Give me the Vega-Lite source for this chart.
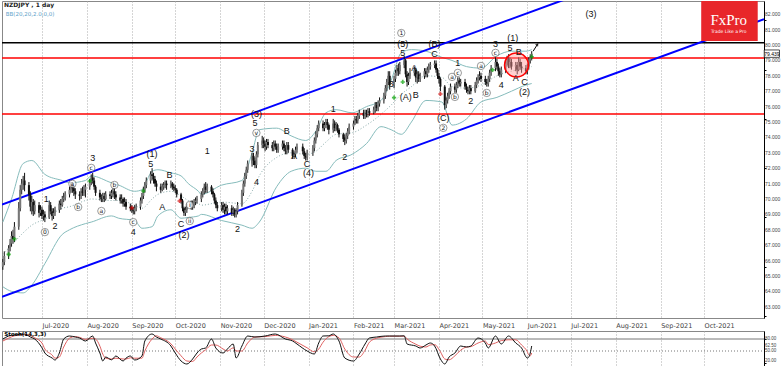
{
"$schema":"https://vega.github.io/schema/vega-lite/v6.json",
"padding":0,
"spacing":1,
"background":"white",
"config":{"view":{"stroke":"#888","strokeWidth":1},"axis":{"labelFont":"Liberation Sans","labelFontSize":5.5,"labelColor":"#444","domainColor":"#000","tickColor":"#000"}},
"datasets":{
"candles":[
{"d":"2020-06-04","o":65.6,"h":66.1,"l":65.4,"c":65.9},
{"d":"2020-06-05","o":65.9,"h":66.6,"l":65.7,"c":66.3},
{"d":"2020-06-08","o":66.3,"h":67.0,"l":66.1,"c":66.8},
{"d":"2020-06-09","o":66.8,"h":67.4,"l":66.6,"c":67.1},
{"d":"2020-06-10","o":67.1,"h":67.9,"l":66.9,"c":67.6},
{"d":"2020-06-11","o":67.6,"h":68.0,"l":67.1,"c":67.4},
{"d":"2020-06-12","o":67.4,"h":68.5,"l":67.2,"c":68.2},
{"d":"2020-06-15","o":68.2,"h":69.8,"l":68.0,"c":69.4},
{"d":"2020-06-16","o":69.4,"h":70.9,"l":69.2,"c":70.6},
{"d":"2020-06-17","o":70.6,"h":71.3,"l":70.3,"c":71.0},
{"d":"2020-06-18","o":71.0,"h":71.5,"l":70.6,"c":71.2},
{"d":"2020-06-19","o":71.2,"h":71.7,"l":70.5,"c":70.9},
{"d":"2020-06-22","o":70.9,"h":71.1,"l":69.9,"c":70.3},
{"d":"2020-06-23","o":70.3,"h":70.5,"l":69.2,"c":69.5},
{"d":"2020-06-24","o":69.5,"h":70.2,"l":69.0,"c":69.8},
{"d":"2020-06-25","o":69.8,"h":70.0,"l":68.9,"c":69.2},
{"d":"2020-06-26","o":69.2,"h":69.9,"l":69.0,"c":69.6},
{"d":"2020-06-29","o":69.6,"h":69.8,"l":68.8,"c":69.1},
{"d":"2020-06-30","o":69.1,"h":69.6,"l":68.9,"c":69.3},
{"d":"2020-07-01","o":69.3,"h":69.5,"l":68.7,"c":68.9},
{"d":"2020-07-02","o":68.9,"h":69.3,"l":68.6,"c":69.0},
{"d":"2020-07-03","o":69.0,"h":69.2,"l":68.5,"c":68.8},
{"d":"2020-07-06","o":68.8,"h":69.9,"l":68.7,"c":69.6},
{"d":"2020-07-07","o":69.6,"h":69.8,"l":69.0,"c":69.2},
{"d":"2020-07-08","o":69.2,"h":69.4,"l":68.6,"c":68.9},
{"d":"2020-07-09","o":68.9,"h":69.4,"l":68.7,"c":69.1},
{"d":"2020-07-10","o":69.1,"h":69.5,"l":68.9,"c":69.3},
{"d":"2020-07-13","o":69.3,"h":69.9,"l":69.1,"c":69.7},
{"d":"2020-07-14","o":69.7,"h":70.0,"l":69.3,"c":69.6},
{"d":"2020-07-15","o":69.6,"h":70.2,"l":69.5,"c":70.0},
{"d":"2020-07-16","o":70.0,"h":70.4,"l":69.8,"c":70.1},
{"d":"2020-07-17","o":70.1,"h":70.5,"l":69.9,"c":70.3},
{"d":"2020-07-20","o":70.3,"h":70.8,"l":70.1,"c":70.6},
{"d":"2020-07-21","o":70.6,"h":71.1,"l":70.4,"c":70.9},
{"d":"2020-07-22","o":70.9,"h":71.1,"l":70.4,"c":70.7},
{"d":"2020-07-23","o":70.7,"h":70.9,"l":70.2,"c":70.5},
{"d":"2020-07-24","o":70.5,"h":70.7,"l":70.0,"c":70.3},
{"d":"2020-07-27","o":70.3,"h":70.5,"l":69.9,"c":70.2},
{"d":"2020-07-28","o":70.2,"h":70.7,"l":70.0,"c":70.5},
{"d":"2020-07-29","o":70.5,"h":70.8,"l":70.2,"c":70.4},
{"d":"2020-07-30","o":70.4,"h":70.9,"l":70.2,"c":70.6},
{"d":"2020-07-31","o":70.6,"h":71.0,"l":70.1,"c":70.8},
{"d":"2020-08-03","o":70.8,"h":71.3,"l":70.6,"c":71.1},
{"d":"2020-08-04","o":71.1,"h":71.6,"l":70.9,"c":71.4},
{"d":"2020-08-05","o":71.4,"h":71.7,"l":71.0,"c":71.2},
{"d":"2020-08-06","o":71.2,"h":71.4,"l":70.6,"c":70.8},
{"d":"2020-08-07","o":70.8,"h":70.9,"l":70.2,"c":70.4},
{"d":"2020-08-10","o":70.4,"h":70.6,"l":69.9,"c":70.1},
{"d":"2020-08-11","o":70.1,"h":70.3,"l":69.8,"c":70.0},
{"d":"2020-08-12","o":70.0,"h":70.4,"l":69.8,"c":70.2},
{"d":"2020-08-13","o":70.2,"h":70.4,"l":69.8,"c":70.0},
{"d":"2020-08-14","o":70.0,"h":70.5,"l":69.9,"c":70.3},
{"d":"2020-08-17","o":70.3,"h":70.5,"l":70.0,"c":70.2},
{"d":"2020-08-18","o":70.2,"h":70.6,"l":70.0,"c":70.4},
{"d":"2020-08-19","o":70.4,"h":70.7,"l":70.1,"c":70.5},
{"d":"2020-08-20","o":70.5,"h":70.7,"l":70.0,"c":70.3},
{"d":"2020-08-21","o":70.3,"h":70.5,"l":69.9,"c":70.1},
{"d":"2020-08-24","o":70.1,"h":70.3,"l":69.7,"c":69.9},
{"d":"2020-08-25","o":69.9,"h":70.3,"l":69.7,"c":70.0},
{"d":"2020-08-26","o":70.0,"h":70.1,"l":69.5,"c":69.7},
{"d":"2020-08-27","o":69.7,"h":70.1,"l":69.5,"c":69.8},
{"d":"2020-08-28","o":69.8,"h":70.0,"l":69.3,"c":69.5},
{"d":"2020-08-31","o":69.5,"h":69.7,"l":69.2,"c":69.4},
{"d":"2020-09-01","o":69.4,"h":69.6,"l":69.1,"c":69.3},
{"d":"2020-09-02","o":69.3,"h":69.5,"l":69.0,"c":69.2},
{"d":"2020-09-03","o":69.2,"h":69.6,"l":69.0,"c":69.4},
{"d":"2020-09-04","o":69.4,"h":69.7,"l":69.2,"c":69.5},
{"d":"2020-09-07","o":69.5,"h":70.1,"l":69.3,"c":69.9},
{"d":"2020-09-08","o":69.9,"h":70.4,"l":69.7,"c":70.2},
{"d":"2020-09-09","o":70.2,"h":70.8,"l":70.0,"c":70.6},
{"d":"2020-09-10","o":70.6,"h":71.1,"l":70.4,"c":70.9},
{"d":"2020-09-11","o":70.9,"h":71.4,"l":70.7,"c":71.2},
{"d":"2020-09-14","o":71.2,"h":71.8,"l":71.0,"c":71.6},
{"d":"2020-09-15","o":71.6,"h":72.0,"l":71.2,"c":71.5},
{"d":"2020-09-16","o":71.5,"h":71.7,"l":71.0,"c":71.3},
{"d":"2020-09-17","o":71.3,"h":71.5,"l":70.8,"c":71.0},
{"d":"2020-09-18","o":71.0,"h":71.2,"l":70.5,"c":70.8},
{"d":"2020-09-21","o":70.8,"h":71.0,"l":70.4,"c":70.6},
{"d":"2020-09-22","o":70.6,"h":71.0,"l":70.5,"c":70.8},
{"d":"2020-09-23","o":70.8,"h":71.1,"l":70.6,"c":70.9},
{"d":"2020-09-24","o":70.9,"h":71.2,"l":70.7,"c":71.0},
{"d":"2020-09-25","o":71.0,"h":71.2,"l":70.6,"c":70.9},
{"d":"2020-09-28","o":70.9,"h":71.2,"l":70.7,"c":71.0},
{"d":"2020-09-29","o":71.0,"h":71.1,"l":70.6,"c":70.8},
{"d":"2020-09-30","o":70.8,"h":71.0,"l":70.5,"c":70.7},
{"d":"2020-10-01","o":70.7,"h":70.9,"l":70.4,"c":70.6},
{"d":"2020-10-02","o":70.6,"h":70.7,"l":70.1,"c":70.3},
{"d":"2020-10-05","o":70.3,"h":70.4,"l":69.7,"c":69.9},
{"d":"2020-10-06","o":69.9,"h":70.0,"l":69.2,"c":69.4},
{"d":"2020-10-07","o":69.4,"h":69.5,"l":68.9,"c":69.1},
{"d":"2020-10-08","o":69.1,"h":69.5,"l":68.9,"c":69.3},
{"d":"2020-10-09","o":69.3,"h":69.7,"l":69.1,"c":69.5},
{"d":"2020-10-12","o":69.5,"h":69.9,"l":69.3,"c":69.7},
{"d":"2020-10-13","o":69.7,"h":69.9,"l":69.3,"c":69.6},
{"d":"2020-10-14","o":69.6,"h":70.0,"l":69.4,"c":69.8},
{"d":"2020-10-15","o":69.8,"h":70.1,"l":69.6,"c":69.9},
{"d":"2020-10-16","o":69.9,"h":70.2,"l":69.7,"c":70.0},
{"d":"2020-10-19","o":70.0,"h":70.5,"l":69.8,"c":70.3},
{"d":"2020-10-20","o":70.3,"h":70.7,"l":70.1,"c":70.5},
{"d":"2020-10-21","o":70.5,"h":71.0,"l":70.3,"c":70.8},
{"d":"2020-10-22","o":70.8,"h":71.1,"l":70.4,"c":70.6},
{"d":"2020-10-23","o":70.6,"h":71.0,"l":70.4,"c":70.8},
{"d":"2020-10-26","o":70.8,"h":70.9,"l":70.3,"c":70.5},
{"d":"2020-10-27","o":70.5,"h":70.7,"l":70.1,"c":70.3},
{"d":"2020-10-28","o":70.3,"h":70.4,"l":69.7,"c":69.9},
{"d":"2020-10-29","o":69.9,"h":70.1,"l":69.4,"c":69.6},
{"d":"2020-10-30","o":69.6,"h":69.8,"l":69.2,"c":69.4},
{"d":"2020-11-02","o":69.4,"h":69.8,"l":69.2,"c":69.6},
{"d":"2020-11-03","o":69.6,"h":69.8,"l":69.1,"c":69.3},
{"d":"2020-11-04","o":69.3,"h":69.7,"l":69.0,"c":69.5},
{"d":"2020-11-05","o":69.5,"h":69.7,"l":69.0,"c":69.2},
{"d":"2020-11-06","o":69.2,"h":69.6,"l":69.0,"c":69.4},
{"d":"2020-11-09","o":69.4,"h":69.6,"l":68.9,"c":69.1},
{"d":"2020-11-10","o":69.1,"h":69.5,"l":68.9,"c":69.3},
{"d":"2020-11-11","o":69.3,"h":69.4,"l":68.8,"c":69.0},
{"d":"2020-11-12","o":69.0,"h":69.4,"l":68.8,"c":69.2},
{"d":"2020-11-13","o":69.2,"h":69.8,"l":69.0,"c":69.6},
{"d":"2020-11-16","o":69.6,"h":70.6,"l":69.5,"c":70.4},
{"d":"2020-11-17","o":70.4,"h":71.2,"l":70.2,"c":71.0},
{"d":"2020-11-18","o":71.0,"h":71.7,"l":70.8,"c":71.5},
{"d":"2020-11-19","o":71.5,"h":72.1,"l":71.3,"c":71.9},
{"d":"2020-11-20","o":71.9,"h":72.5,"l":71.7,"c":72.3},
{"d":"2020-11-23","o":72.3,"h":73.0,"l":72.1,"c":72.8},
{"d":"2020-11-24","o":72.8,"h":73.0,"l":72.2,"c":72.5},
{"d":"2020-11-25","o":72.5,"h":72.7,"l":72.0,"c":72.2},
{"d":"2020-11-26","o":72.2,"h":73.1,"l":72.0,"c":72.9},
{"d":"2020-11-27","o":72.9,"h":73.7,"l":72.7,"c":73.5},
{"d":"2020-11-30","o":73.5,"h":74.1,"l":73.3,"c":73.8},
{"d":"2020-12-01","o":73.8,"h":74.0,"l":73.3,"c":73.6},
{"d":"2020-12-02","o":73.6,"h":73.8,"l":73.1,"c":73.4},
{"d":"2020-12-03","o":73.4,"h":73.9,"l":73.2,"c":73.7},
{"d":"2020-12-04","o":73.7,"h":73.9,"l":73.3,"c":73.5},
{"d":"2020-12-07","o":73.5,"h":73.7,"l":73.1,"c":73.3},
{"d":"2020-12-08","o":73.3,"h":73.8,"l":73.1,"c":73.6},
{"d":"2020-12-09","o":73.6,"h":73.8,"l":73.2,"c":73.4},
{"d":"2020-12-10","o":73.4,"h":73.6,"l":73.0,"c":73.2},
{"d":"2020-12-11","o":73.2,"h":73.6,"l":73.0,"c":73.4},
{"d":"2020-12-14","o":73.4,"h":73.8,"l":73.2,"c":73.6},
{"d":"2020-12-15","o":73.6,"h":73.8,"l":73.1,"c":73.3},
{"d":"2020-12-16","o":73.3,"h":73.5,"l":72.9,"c":73.1},
{"d":"2020-12-17","o":73.1,"h":73.7,"l":72.9,"c":73.5},
{"d":"2020-12-18","o":73.5,"h":73.7,"l":73.0,"c":73.2},
{"d":"2020-12-21","o":73.2,"h":73.3,"l":72.6,"c":72.8},
{"d":"2020-12-22","o":72.8,"h":73.1,"l":72.6,"c":72.9},
{"d":"2020-12-23","o":72.9,"h":73.4,"l":72.7,"c":73.2},
{"d":"2020-12-24","o":73.2,"h":73.6,"l":73.0,"c":73.4},
{"d":"2020-12-28","o":73.4,"h":73.6,"l":72.9,"c":73.1},
{"d":"2020-12-29","o":73.1,"h":73.3,"l":72.6,"c":72.8},
{"d":"2020-12-30","o":72.8,"h":73.0,"l":72.5,"c":72.7},
{"d":"2020-12-31","o":72.7,"h":73.2,"l":72.5,"c":73.0},
{"d":"2021-01-04","o":73.0,"h":73.5,"l":72.8,"c":73.3},
{"d":"2021-01-05","o":73.3,"h":74.0,"l":73.1,"c":73.8},
{"d":"2021-01-06","o":73.8,"h":74.4,"l":73.6,"c":74.2},
{"d":"2021-01-07","o":74.2,"h":74.8,"l":74.0,"c":74.6},
{"d":"2021-01-08","o":74.6,"h":75.1,"l":74.4,"c":74.9},
{"d":"2021-01-11","o":74.9,"h":75.1,"l":74.4,"c":74.6},
{"d":"2021-01-12","o":74.6,"h":75.0,"l":74.4,"c":74.8},
{"d":"2021-01-13","o":74.8,"h":75.2,"l":74.6,"c":75.0},
{"d":"2021-01-14","o":75.0,"h":75.2,"l":74.5,"c":74.8},
{"d":"2021-01-15","o":74.8,"h":74.9,"l":74.2,"c":74.5},
{"d":"2021-01-18","o":74.5,"h":75.2,"l":74.3,"c":74.9},
{"d":"2021-01-19","o":74.9,"h":75.1,"l":74.4,"c":74.6},
{"d":"2021-01-20","o":74.6,"h":75.0,"l":74.4,"c":74.8},
{"d":"2021-01-21","o":74.8,"h":74.9,"l":74.3,"c":74.5},
{"d":"2021-01-22","o":74.5,"h":74.6,"l":74.0,"c":74.2},
{"d":"2021-01-25","o":74.2,"h":74.3,"l":73.7,"c":73.9},
{"d":"2021-01-26","o":74.0,"h":74.2,"l":73.5,"c":73.8},
{"d":"2021-01-27","o":73.8,"h":74.3,"l":73.6,"c":74.1},
{"d":"2021-01-28","o":74.1,"h":74.6,"l":73.9,"c":74.4},
{"d":"2021-01-29","o":74.4,"h":74.9,"l":74.2,"c":74.7},
{"d":"2021-02-01","o":74.7,"h":75.1,"l":74.5,"c":74.9},
{"d":"2021-02-02","o":74.9,"h":75.4,"l":74.8,"c":75.2},
{"d":"2021-02-03","o":75.2,"h":75.4,"l":74.9,"c":75.1},
{"d":"2021-02-04","o":75.1,"h":75.6,"l":74.9,"c":75.4},
{"d":"2021-02-05","o":75.4,"h":75.8,"l":75.2,"c":75.6},
{"d":"2021-02-08","o":75.6,"h":75.8,"l":75.2,"c":75.4},
{"d":"2021-02-09","o":75.4,"h":75.8,"l":75.2,"c":75.6},
{"d":"2021-02-10","o":75.6,"h":75.8,"l":75.3,"c":75.5},
{"d":"2021-02-11","o":75.5,"h":75.9,"l":75.3,"c":75.7},
{"d":"2021-02-12","o":75.7,"h":75.9,"l":75.4,"c":75.6},
{"d":"2021-02-15","o":75.6,"h":76.0,"l":75.5,"c":75.8},
{"d":"2021-02-16","o":75.8,"h":76.3,"l":75.6,"c":76.1},
{"d":"2021-02-17","o":76.1,"h":76.3,"l":75.7,"c":75.9},
{"d":"2021-02-18","o":75.9,"h":76.4,"l":75.7,"c":76.2},
{"d":"2021-02-19","o":76.2,"h":76.6,"l":76.0,"c":76.4},
{"d":"2021-02-22","o":76.4,"h":76.9,"l":76.2,"c":76.7},
{"d":"2021-02-23","o":76.7,"h":77.4,"l":76.5,"c":77.2},
{"d":"2021-02-24","o":77.2,"h":77.8,"l":77.0,"c":77.6},
{"d":"2021-02-25","o":77.6,"h":78.3,"l":77.4,"c":78.0},
{"d":"2021-02-26","o":78.0,"h":78.3,"l":77.1,"c":77.4},
{"d":"2021-03-01","o":77.4,"h":78.0,"l":77.2,"c":77.8},
{"d":"2021-03-02","o":77.8,"h":78.4,"l":77.6,"c":78.2},
{"d":"2021-03-03","o":78.2,"h":78.7,"l":78.0,"c":78.5},
{"d":"2021-03-04","o":78.5,"h":78.8,"l":78.0,"c":78.3},
{"d":"2021-03-05","o":78.3,"h":78.9,"l":78.1,"c":78.7},
{"d":"2021-03-08","o":78.7,"h":79.3,"l":78.5,"c":79.0},
{"d":"2021-03-09","o":79.0,"h":79.1,"l":77.9,"c":78.1},
{"d":"2021-03-10","o":78.1,"h":78.3,"l":77.3,"c":77.6},
{"d":"2021-03-11","o":77.6,"h":78.2,"l":77.4,"c":78.0},
{"d":"2021-03-12","o":78.0,"h":78.5,"l":77.8,"c":78.2},
{"d":"2021-03-15","o":78.2,"h":78.6,"l":78.0,"c":78.4},
{"d":"2021-03-16","o":78.4,"h":78.5,"l":77.6,"c":77.9},
{"d":"2021-03-17","o":77.9,"h":78.3,"l":77.5,"c":78.1},
{"d":"2021-03-18","o":78.1,"h":78.3,"l":77.6,"c":77.8},
{"d":"2021-03-19","o":77.8,"h":78.2,"l":77.6,"c":78.0},
{"d":"2021-03-22","o":78.0,"h":78.5,"l":77.8,"c":78.3},
{"d":"2021-03-23","o":78.3,"h":78.5,"l":77.9,"c":78.1},
{"d":"2021-03-24","o":78.1,"h":78.6,"l":77.9,"c":78.4},
{"d":"2021-03-25","o":78.4,"h":78.8,"l":78.2,"c":78.6},
{"d":"2021-03-26","o":78.6,"h":78.9,"l":78.4,"c":78.7},
{"d":"2021-03-29","o":78.7,"h":79.0,"l":78.5,"c":78.8},
{"d":"2021-03-30","o":78.8,"h":79.0,"l":78.2,"c":78.4},
{"d":"2021-03-31","o":78.4,"h":78.5,"l":77.8,"c":78.0},
{"d":"2021-04-01","o":78.0,"h":78.2,"l":77.5,"c":77.8},
{"d":"2021-04-02","o":77.8,"h":77.9,"l":77.0,"c":77.3},
{"d":"2021-04-05","o":77.3,"h":77.4,"l":75.8,"c":76.1},
{"d":"2021-04-06","o":76.1,"h":76.6,"l":75.9,"c":76.4},
{"d":"2021-04-07","o":76.4,"h":76.9,"l":76.2,"c":76.7},
{"d":"2021-04-08","o":76.7,"h":77.2,"l":76.5,"c":77.0},
{"d":"2021-04-09","o":77.0,"h":77.5,"l":76.8,"c":77.3},
{"d":"2021-04-12","o":77.3,"h":77.5,"l":76.9,"c":77.1},
{"d":"2021-04-13","o":77.1,"h":77.6,"l":76.9,"c":77.4},
{"d":"2021-04-14","o":77.4,"h":77.9,"l":77.2,"c":77.7},
{"d":"2021-04-15","o":77.7,"h":77.9,"l":77.3,"c":77.5},
{"d":"2021-04-16","o":77.5,"h":77.8,"l":77.3,"c":77.6},
{"d":"2021-04-19","o":77.6,"h":77.8,"l":77.1,"c":77.3},
{"d":"2021-04-20","o":77.3,"h":77.5,"l":76.9,"c":77.1},
{"d":"2021-04-21","o":77.1,"h":77.3,"l":76.8,"c":77.0},
{"d":"2021-04-22","o":77.0,"h":77.4,"l":76.8,"c":77.2},
{"d":"2021-04-23","o":77.2,"h":77.4,"l":76.8,"c":77.0},
{"d":"2021-04-26","o":77.0,"h":77.6,"l":76.9,"c":77.4},
{"d":"2021-04-27","o":77.4,"h":77.9,"l":77.2,"c":77.7},
{"d":"2021-04-28","o":77.7,"h":78.1,"l":77.5,"c":77.9},
{"d":"2021-04-29","o":77.9,"h":78.3,"l":77.7,"c":78.0},
{"d":"2021-04-30","o":78.0,"h":78.2,"l":77.6,"c":77.8},
{"d":"2021-05-03","o":77.8,"h":78.0,"l":77.4,"c":77.6},
{"d":"2021-05-04","o":77.6,"h":77.8,"l":77.3,"c":77.5},
{"d":"2021-05-05","o":77.5,"h":78.0,"l":77.3,"c":77.8},
{"d":"2021-05-06","o":77.8,"h":78.4,"l":77.6,"c":78.2},
{"d":"2021-05-07","o":78.2,"h":78.7,"l":78.0,"c":78.5},
{"d":"2021-05-10","o":78.5,"h":79.2,"l":78.3,"c":78.9},
{"d":"2021-05-11","o":78.9,"h":79.1,"l":78.4,"c":78.6},
{"d":"2021-05-12","o":78.6,"h":78.8,"l":78.0,"c":78.3},
{"d":"2021-05-13","o":78.3,"h":78.5,"l":77.9,"c":78.1},
{"d":"2021-05-14","o":78.1,"h":78.6,"l":77.9,"c":78.4},
{"d":"2021-05-17","o":78.4,"h":79.0,"l":78.2,"c":78.8},
{"d":"2021-05-18","o":78.8,"h":79.3,"l":78.6,"c":79.1},
{"d":"2021-05-19","o":79.1,"h":79.4,"l":78.5,"c":78.7},
{"d":"2021-05-20","o":78.7,"h":79.2,"l":78.5,"c":78.9},
{"d":"2021-05-21","o":78.9,"h":79.1,"l":78.4,"c":78.6},
{"d":"2021-05-24","o":78.6,"h":78.9,"l":78.3,"c":78.7},
{"d":"2021-05-25","o":78.7,"h":78.9,"l":78.1,"c":78.4},
{"d":"2021-05-26","o":78.4,"h":79.2,"l":78.3,"c":78.9},
{"d":"2021-05-27","o":78.9,"h":79.1,"l":78.4,"c":78.6},
{"d":"2021-05-28","o":78.6,"h":78.9,"l":78.2,"c":78.5},
{"d":"2021-05-31","o":78.5,"h":78.7,"l":78.1,"c":78.3},
{"d":"2021-06-01","o":78.3,"h":78.8,"l":78.1,"c":78.6},
{"d":"2021-06-02","o":78.6,"h":79.2,"l":78.4,"c":79.0},
{"d":"2021-06-03","o":79.0,"h":79.4,"l":78.8,"c":79.2},
{"d":"2021-06-04","o":79.2,"h":79.6,"l":79.0,"c":79.44}
],
"bb":[
{"d":"2020-06-04","u":68.5,"m":66.4,"lo":64.3},
{"d":"2020-06-10","u":70.0,"m":67.0,"lo":64.0},
{"d":"2020-06-18","u":72.3,"m":67.8,"lo":63.9},
{"d":"2020-06-24","u":72.5,"m":68.3,"lo":64.4},
{"d":"2020-07-03","u":71.6,"m":68.7,"lo":65.8},
{"d":"2020-07-15","u":71.2,"m":69.4,"lo":67.7},
{"d":"2020-07-20","u":71.05,"m":69.5,"lo":68.0},
{"d":"2020-07-31","u":71.2,"m":69.9,"lo":68.4},
{"d":"2020-08-04","u":71.5,"m":70.0,"lo":68.5},
{"d":"2020-08-18","u":71.05,"m":69.9,"lo":68.9},
{"d":"2020-08-23","u":70.9,"m":69.9,"lo":68.75},
{"d":"2020-09-03","u":70.5,"m":69.6,"lo":68.6},
{"d":"2020-09-08","u":70.6,"m":69.4,"lo":68.1},
{"d":"2020-09-15","u":71.8,"m":70.0,"lo":68.2},
{"d":"2020-09-19","u":71.9,"m":70.3,"lo":68.9},
{"d":"2020-09-28","u":71.7,"m":70.5,"lo":69.3},
{"d":"2020-10-05","u":71.5,"m":70.2,"lo":68.75},
{"d":"2020-10-10","u":71.0,"m":69.9,"lo":68.8},
{"d":"2020-10-17","u":70.5,"m":69.7,"lo":68.9},
{"d":"2020-10-19","u":70.3,"m":69.6,"lo":69.0},
{"d":"2020-11-02","u":70.9,"m":69.8,"lo":68.6},
{"d":"2020-11-16","u":71.2,"m":69.7,"lo":68.3},
{"d":"2020-11-23","u":73.0,"m":70.5,"lo":68.1},
{"d":"2020-11-28","u":74.5,"m":71.5,"lo":68.5},
{"d":"2020-12-10","u":74.6,"m":72.7,"lo":70.8},
{"d":"2020-12-20","u":74.1,"m":73.0,"lo":71.8},
{"d":"2020-12-30","u":73.8,"m":72.9,"lo":72.0},
{"d":"2021-01-06","u":74.4,"m":73.1,"lo":71.8},
{"d":"2021-01-13","u":75.6,"m":73.7,"lo":71.8},
{"d":"2021-01-20","u":75.8,"m":74.2,"lo":72.5},
{"d":"2021-01-31","u":75.6,"m":74.3,"lo":72.9},
{"d":"2021-02-10","u":76.0,"m":74.8,"lo":73.6},
{"d":"2021-02-20","u":76.4,"m":75.5,"lo":74.7},
{"d":"2021-02-27","u":77.7,"m":76.1,"lo":74.5},
{"d":"2021-03-06","u":79.5,"m":76.8,"lo":74.2},
{"d":"2021-03-13","u":79.7,"m":77.3,"lo":75.0},
{"d":"2021-03-23","u":79.6,"m":78.0,"lo":76.4},
{"d":"2021-04-03","u":79.2,"m":77.9,"lo":76.3},
{"d":"2021-04-10","u":79.0,"m":77.3,"lo":74.8},
{"d":"2021-04-20","u":78.6,"m":77.2,"lo":75.2},
{"d":"2021-04-30","u":78.5,"m":77.4,"lo":76.3},
{"d":"2021-05-11","u":79.3,"m":78.0,"lo":76.6},
{"d":"2021-05-21","u":79.6,"m":78.3,"lo":77.0},
{"d":"2021-05-31","u":79.6,"m":78.5,"lo":77.4},
{"d":"2021-06-04","u":79.7,"m":78.6,"lo":77.5}
],
"channel":[
{"line":"lower","d":"2020-06-03T10:00:00Z","p":63.65},
{"line":"lower","d":"2021-11-11T08:00:00Z","p":81.68},
{"line":"upper","d":"2020-06-03T10:00:00Z","p":69.64},
{"line":"upper","d":"2021-11-11T08:00:00Z","p":87.67}
],
"labels":[
{"d":"2020-07-04","p":70.0,"t":"1"},
{"d":"2020-07-10","p":68.24,"t":"2"},
{"d":"2020-08-05","p":72.67,"t":"3"},
{"d":"2020-09-02","p":67.85,"t":"4"},
{"d":"2020-09-15","p":72.93,"t":"(1)"},
{"d":"2020-09-14","p":72.28,"t":"5"},
{"d":"2020-09-22","p":69.48,"t":"A"},
{"d":"2020-09-27","p":71.56,"t":"B"},
{"d":"2020-10-05","p":68.37,"t":"C"},
{"d":"2020-10-07","p":67.65,"t":"(2)"},
{"d":"2020-10-23","p":73.12,"t":"1"},
{"d":"2020-11-13","p":68.05,"t":"2"},
{"d":"2020-11-26","p":75.52,"t":"(3)"},
{"d":"2020-11-25","p":74.94,"t":"5"},
{"d":"2020-11-23","p":73.25,"t":"3"},
{"d":"2020-11-26","p":71.11,"t":"4"},
{"d":"2020-12-22","p":72.8,"t":"A"},
{"d":"2020-12-17","p":74.42,"t":"B"},
{"d":"2020-12-31","p":72.28,"t":"C"},
{"d":"2021-01-01","p":71.7,"t":"(4)"},
{"d":"2021-01-18","p":75.85,"t":"1"},
{"d":"2021-01-26","p":72.73,"t":"2"},
{"d":"2021-02-27","p":77.47,"t":"3"},
{"d":"2021-03-07","p":80.07,"t":"(5)"},
{"d":"2021-03-07","p":79.49,"t":"5"},
{"d":"2021-03-15","p":78.51,"t":"A"},
{"d":"2021-03-09","p":76.63,"t":"(A)"},
{"d":"2021-03-16","p":76.76,"t":"B"},
{"d":"2021-03-29","p":80.07,"t":"(B)"},
{"d":"2021-03-29","p":79.42,"t":"C"},
{"d":"2021-04-04","p":75.26,"t":"(C)"},
{"d":"2021-04-14","p":78.84,"t":"1"},
{"d":"2021-04-23","p":76.37,"t":"2"},
{"d":"2021-05-10","p":80.07,"t":"3"},
{"d":"2021-05-14","p":77.41,"t":"4"},
{"d":"2021-05-20","p":79.81,"t":"5"},
{"d":"2021-05-22","p":80.46,"t":"(1)"},
{"d":"2021-05-26","p":79.55,"t":"B"},
{"d":"2021-05-24","p":77.86,"t":"A"},
{"d":"2021-05-30","p":77.6,"t":"C"},
{"d":"2021-05-30","p":76.95,"t":"(2)"},
{"d":"2021-07-15","p":82.02,"t":"(3)"}
],
"clabels":[
{"d":"2020-07-03","p":67.85,"t":"0"},
{"d":"2020-07-22","p":70.98,"t":"a"},
{"d":"2020-07-26","p":69.48,"t":"b"},
{"d":"2020-08-04","p":72.02,"t":"c"},
{"d":"2020-08-11","p":69.22,"t":"a"},
{"d":"2020-08-20","p":70.91,"t":"b"},
{"d":"2020-09-02","p":68.5,"t":"c"},
{"d":"2020-10-11","p":69.61,"t":"i"},
{"d":"2020-10-11","p":68.57,"t":"ii"},
{"d":"2020-11-26","p":74.29,"t":"v"},
{"d":"2021-03-06","p":80.78,"t":"1"},
{"d":"2021-04-04","p":74.62,"t":"2"},
{"d":"2021-04-10","p":77.93,"t":"a"},
{"d":"2021-04-14","p":78.19,"t":"c"},
{"d":"2021-04-12","p":76.63,"t":"b"},
{"d":"2021-04-30","p":78.64,"t":"a"},
{"d":"2021-05-04","p":76.89,"t":"b"},
{"d":"2021-05-10","p":79.49,"t":"c"}
],
"markers":[
{"d":"2020-06-08","p":66.4,"k":"buy"},
{"d":"2020-06-12","p":67.4,"k":"buy"},
{"d":"2020-08-03","p":71.17,"k":"buy"},
{"d":"2020-09-09","p":70.52,"k":"buy"},
{"d":"2021-03-01","p":76.58,"k":"buy"},
{"d":"2021-03-07","p":77.6,"k":"buy"},
{"d":"2021-05-08","p":78.38,"k":"buy"},
{"d":"2021-06-04","p":79.24,"k":"buy"},
{"d":"2020-09-01","p":69.42,"k":"sell"},
{"d":"2020-10-04","p":69.87,"k":"sell"},
{"d":"2021-04-02","p":76.82,"k":"sell"}
],
"pricelabels":[{"d":"2021-11-12","p":63},{"d":"2021-11-12","p":64},{"d":"2021-11-12","p":65},{"d":"2021-11-12","p":66},{"d":"2021-11-12","p":67},{"d":"2021-11-12","p":68},{"d":"2021-11-12","p":69},{"d":"2021-11-12","p":70},{"d":"2021-11-12","p":71},{"d":"2021-11-12","p":72},{"d":"2021-11-12","p":73},{"d":"2021-11-12","p":74},{"d":"2021-11-12","p":75},{"d":"2021-11-12","p":76},{"d":"2021-11-12","p":77},{"d":"2021-11-12","p":78},{"d":"2021-11-12","p":79},{"d":"2021-11-12","p":80},{"d":"2021-11-12","p":81},{"d":"2021-11-12","p":82}],
"stochlabels":[{"d":"2021-11-12","v":80,"t":"80.00"},{"d":"2021-11-12","v":62.5,"t":"62.50"},{"d":"2021-11-12","v":50,"t":"50.00"},{"d":"2021-11-12","v":24,"t":"20.00"}],
"stoch":[
{"d":"2020-06-04","k":80,"s":75},{"d":"2020-06-08","k":87.5,"s":82},{"d":"2020-06-12","k":90,"s":88},{"d":"2020-06-19","k":92.5,"s":91},{"d":"2020-06-23","k":85,"s":89},{"d":"2020-06-26","k":80,"s":83},{"d":"2020-07-01","k":58,"s":70},{"d":"2020-07-03","k":45,"s":55},{"d":"2020-07-08","k":32.5,"s":40},{"d":"2020-07-10","k":27.5,"s":32},{"d":"2020-07-13","k":45,"s":35},{"d":"2020-07-16","k":80,"s":60},{"d":"2020-07-20","k":87.5,"s":82},{"d":"2020-07-24","k":85,"s":86},{"d":"2020-07-27","k":82.5,"s":84},{"d":"2020-07-31","k":75,"s":79},{"d":"2020-08-05","k":87.5,"s":82},{"d":"2020-08-07","k":70,"s":80},{"d":"2020-08-10","k":45,"s":62},{"d":"2020-08-12","k":25,"s":42},{"d":"2020-08-14","k":35,"s":32},{"d":"2020-08-18","k":28,"s":30},{"d":"2020-08-21","k":37.5,"s":32},{"d":"2020-08-26","k":25,"s":30},{"d":"2020-08-28","k":32,"s":30},{"d":"2020-08-31","k":37.5,"s":33},{"d":"2020-09-03","k":27.5,"s":32},{"d":"2020-09-08","k":37.5,"s":32},{"d":"2020-09-10","k":75,"s":50},{"d":"2020-09-15","k":92.5,"s":80},{"d":"2020-09-18","k":85,"s":88},{"d":"2020-09-21","k":80,"s":83},{"d":"2020-09-28","k":62.5,"s":68},{"d":"2020-10-01","k":45,"s":55},{"d":"2020-10-05","k":25,"s":38},{"d":"2020-10-09","k":17.5,"s":25},{"d":"2020-10-13","k":30,"s":24},{"d":"2020-10-16","k":45,"s":35},{"d":"2020-10-19","k":55,"s":45},{"d":"2020-10-22","k":57.5,"s":53},{"d":"2020-10-26","k":80,"s":65},{"d":"2020-10-29","k":57.5,"s":65},{"d":"2020-11-03","k":45,"s":55},{"d":"2020-11-06","k":55,"s":50},{"d":"2020-11-10","k":67.5,"s":58},{"d":"2020-11-12","k":32.5,"s":50},{"d":"2020-11-16","k":62.5,"s":50},{"d":"2020-11-20","k":87.5,"s":70},{"d":"2020-11-25","k":85,"s":85},{"d":"2020-12-02","k":87.5,"s":86},{"d":"2020-12-09","k":92.5,"s":89},{"d":"2020-12-16","k":80,"s":85},{"d":"2020-12-21","k":75,"s":78},{"d":"2020-12-24","k":67.5,"s":72},{"d":"2020-12-31","k":50,"s":58},{"d":"2021-01-05","k":42.5,"s":48},{"d":"2021-01-08","k":70,"s":55},{"d":"2021-01-11","k":87.5,"s":72},{"d":"2021-01-15","k":88,"s":86},{"d":"2021-01-18","k":92.5,"s":89},{"d":"2021-01-22","k":75,"s":83},{"d":"2021-01-26","k":32.5,"s":55},{"d":"2021-02-01","k":25,"s":35},{"d":"2021-02-05","k":42.5,"s":35},{"d":"2021-02-09","k":67.5,"s":52},{"d":"2021-02-12","k":82.5,"s":72},{"d":"2021-02-17","k":85,"s":82},{"d":"2021-02-23","k":87.5,"s":86},{"d":"2021-02-26","k":87.5,"s":87},{"d":"2021-03-05","k":87.5,"s":87},{"d":"2021-03-08","k":88,"s":87},{"d":"2021-03-10","k":67.5,"s":80},{"d":"2021-03-16","k":62.5,"s":67},{"d":"2021-03-19","k":57.5,"s":62},{"d":"2021-03-23","k":65,"s":60},{"d":"2021-03-26","k":70,"s":65},{"d":"2021-03-29","k":62.5,"s":66},{"d":"2021-04-02","k":30,"s":48},{"d":"2021-04-05","k":17.5,"s":30},{"d":"2021-04-08","k":35,"s":28},{"d":"2021-04-12","k":45,"s":38},{"d":"2021-04-16","k":62.5,"s":52},{"d":"2021-04-20","k":60,"s":60},{"d":"2021-04-23","k":62.5,"s":61},{"d":"2021-04-28","k":82.5,"s":70},{"d":"2021-05-03","k":70,"s":75},{"d":"2021-05-05","k":57.5,"s":66},{"d":"2021-05-10","k":87.5,"s":70},{"d":"2021-05-14","k":67.5,"s":76},{"d":"2021-05-19","k":87.5,"s":78},{"d":"2021-05-24","k":70,"s":78},{"d":"2021-05-28","k":57.5,"s":65},{"d":"2021-06-01","k":32.5,"s":48},{"d":"2021-06-02","k":35,"s":40},{"d":"2021-06-03","k":45,"s":38},{"d":"2021-06-04","k":62.5,"s":45}
]
},
"vconcat":[
{
"width":762,"height":317,
"encoding":{"x":{"field":"d","type":"temporal","title":null,
 "scale":{"type":"utc","domain":[{"year":2020,"month":6,"date":3,"hours":10,"utc":true},{"year":2021,"month":11,"date":11,"hours":8,"utc":true}]},
 "axis":{"values":[{"year":2020,"month":7,"date":1,"utc":true},{"year":2020,"month":8,"date":1,"utc":true},{"year":2020,"month":9,"date":1,"utc":true},{"year":2020,"month":10,"date":1,"utc":true},{"year":2020,"month":11,"date":1,"utc":true},{"year":2020,"month":12,"date":1,"utc":true},{"year":2021,"month":1,"date":1,"utc":true},{"year":2021,"month":2,"date":1,"utc":true},{"year":2021,"month":3,"date":1,"utc":true},{"year":2021,"month":4,"date":1,"utc":true},{"year":2021,"month":5,"date":1,"utc":true},{"year":2021,"month":6,"date":1,"utc":true},{"year":2021,"month":7,"date":1,"utc":true},{"year":2021,"month":8,"date":1,"utc":true},{"year":2021,"month":9,"date":1,"utc":true},{"year":2021,"month":10,"date":1,"utc":true}],
 "format":"%b-%Y","labelAlign":"left","labelPadding":4,"tickSize":0,"domain":false,"grid":true,"gridColor":"#aaa","gridDash":[1,2],"gridWidth":1,"labelFontSize":6.5,"labelFont":"DejaVu Sans"}}},
"layer":[
{"data":{"name":"bb"},"mark":{"type":"line","color":"#86bcbc","strokeWidth":1,"interpolate":"monotone"},"encoding":{"y":{"field":"u","type":"quantitative","title":null,"scale":{"domain":[62.27,82.86],"nice":false,"zero":false},"axis":{"orient":"right","values":[62.4,62.6,62.8,63,63.2,63.4,63.6,63.8,64,64.2,64.4,64.6,64.8,65,65.2,65.4,65.6,65.8,66,66.2,66.4,66.6,66.8,67,67.2,67.4,67.6,67.8,68,68.2,68.4,68.6,68.8,69,69.2,69.4,69.6,69.8,70,70.2,70.4,70.6,70.8,71,71.2,71.4,71.6,71.8,72,72.2,72.4,72.6,72.8,73,73.2,73.4,73.6,73.8,74,74.2,74.4,74.6,74.8,75,75.2,75.4,75.6,75.8,76,76.2,76.4,76.6,76.8,77,77.2,77.4,77.6,77.8,78,78.2,78.4,78.6,78.8,79,79.2,79.4,79.6,79.8,80,80.2,80.4,80.6,80.8,81,81.2,81.4,81.6,81.8,82,82.2,82.4,82.6,82.8],"labels":false,"tickSize":2,"grid":false,"title":null}}}},
{"data":{"name":"bb"},"mark":{"type":"line","color":"#86bcbc","strokeWidth":1,"interpolate":"monotone"},"encoding":{"y":{"field":"lo","type":"quantitative","title":null}}},
{"data":{"name":"bb"},"mark":{"type":"line","color":"#8aa","strokeWidth":1,"strokeDash":[1,2],"interpolate":"monotone"},"encoding":{"y":{"field":"m","type":"quantitative","title":null}}},
{"data":{"values":[{"p":80.15}]},"mark":{"type":"rule","color":"#000","strokeWidth":1.5},"encoding":{"x":{"value":0},"x2":{"value":762},"y":{"field":"p","type":"quantitative","title":null}}},
{"data":{"values":[{"p":79.16},{"p":75.52}]},"mark":{"type":"rule","color":"#ff0000","strokeWidth":1.5},"encoding":{"x":{"value":0},"x2":{"value":762},"y":{"field":"p","type":"quantitative","title":null}}},
{"data":{"name":"channel"},"mark":{"type":"line","color":"#0000ff","strokeWidth":2,"clip":true},"encoding":{"detail":{"field":"line"},"y":{"field":"p","type":"quantitative","title":null}}},
{"data":{"name":"candles"},"mark":{"type":"rule","color":"#111","strokeWidth":1},"encoding":{"y":{"field":"l","type":"quantitative","title":null},"y2":{"field":"h"}}},
{"data":{"name":"candles"},"mark":{"type":"rule","strokeWidth":2},"encoding":{"y":{"field":"o","type":"quantitative","title":null},"y2":{"field":"c"},"color":{"condition":{"test":"datum.c >= datum.o","value":"#777"},"value":"#111"}}},
{"data":{"values":[{"d":"2021-05-24T12:00:00Z","p":78.7}]},"mark":{"type":"point","shape":"circle","size":570,"filled":true,"fill":"#ff9a9a","fillOpacity":0.45,"stroke":"#ff0000","strokeWidth":1.5,"strokeOpacity":1},"encoding":{"y":{"field":"p","type":"quantitative","title":null}}},
{"data":{"name":"markers"},"mark":{"type":"point","shape":"cross","size":18,"filled":true,"strokeWidth":0},"encoding":{"y":{"field":"p","type":"quantitative","title":null},"color":{"field":"k","type":"nominal","scale":{"domain":["buy","sell"],"range":["#00a000","#d00000"]},"legend":null}}},
{"data":{"values":[{"d":"2021-06-05","p":79.6},{"d":"2021-06-08","p":80.05}]},"mark":{"type":"line","color":"#000","strokeWidth":1},"encoding":{"y":{"field":"p","type":"quantitative","title":null}}},
{"data":{"values":[{"d":"2021-06-08","p":80.05}]},"mark":{"type":"point","shape":"triangle-up","size":14,"filled":true,"color":"#000","angle":35},"encoding":{"y":{"field":"p","type":"quantitative","title":null}}},
{"data":{"name":"clabels"},"mark":{"type":"point","shape":"circle","size":55,"filled":true,"fill":"white","stroke":"#333","strokeWidth":0.7},"encoding":{"y":{"field":"p","type":"quantitative","title":null}}},
{"data":{"name":"clabels"},"mark":{"type":"text","font":"DejaVu Sans","fontSize":6,"color":"#111","baseline":"middle","align":"center"},"encoding":{"y":{"field":"p","type":"quantitative","title":null},"text":{"field":"t"}}},
{"data":{"name":"labels"},"mark":{"type":"text","font":"Liberation Sans","fontSize":9,"color":"#111","baseline":"middle","align":"center"},"encoding":{"y":{"field":"p","type":"quantitative","title":null},"text":{"field":"t"}}},
{"data":{"values":[{"d":"2021-09-29","d2":"2021-11-07","p":82.9,"p2":80.27}]},"mark":{"type":"rect","color":"#e8262a","clip":true},"encoding":{"x2":{"field":"d2"},"y":{"field":"p","type":"quantitative","title":null},"y2":{"field":"p2"}}},
{"data":{"values":[{"d":"2021-10-18","p":81.6,"t":"FxPro"}]},"mark":{"type":"text","font":"Liberation Serif","fontSize":15,"color":"white","baseline":"middle","align":"center"},"encoding":{"y":{"field":"p","type":"quantitative","title":null},"text":{"field":"t"}}},
{"data":{"values":[{"d":"2021-10-18","p":80.83,"t":"Trade Like a Pro"}]},"mark":{"type":"text","font":"DejaVu Sans","fontSize":4.5,"color":"white","baseline":"middle","align":"center"},"encoding":{"y":{"field":"p","type":"quantitative","title":null},"text":{"field":"t"}}},
{"data":{"values":[{"d":"2020-06-04T18:00:00Z","p":82.6,"t":"NZDJPY , 1 day"}]},"mark":{"type":"text","font":"DejaVu Sans","fontSize":6,"fontWeight":"bold","color":"#222","baseline":"middle","align":"left"},"encoding":{"y":{"field":"p","type":"quantitative","title":null},"text":{"field":"t"}}},
{"data":{"values":[{"d":"2020-06-06","p":82.0,"t":"BB(20,20,2.0,0,0)"}]},"mark":{"type":"text","font":"DejaVu Sans","fontSize":5.5,"color":"#5aa0c8","baseline":"middle","align":"left"},"encoding":{"y":{"field":"p","type":"quantitative","title":null},"text":{"field":"t"}}},
{"data":{"name":"pricelabels"},"mark":{"type":"text","font":"Liberation Sans","fontSize":5,"color":"#444","baseline":"middle","align":"left"},"encoding":{"y":{"field":"p","type":"quantitative","title":null},"text":{"field":"p","type":"quantitative","format":".3f"}}},
{"data":{"values":[{"d":"2021-11-11T12:00:00Z","d2":"2021-11-22","p":79.68,"p2":79.2}]},"mark":{"type":"rect","fill":"white","stroke":"#000","strokeWidth":0.7},"encoding":{"x2":{"field":"d2"},"y":{"field":"p","type":"quantitative","title":null},"y2":{"field":"p2"}}},
{"data":{"values":[{"d":"2021-11-16T18:00:00Z","p":79.44,"t":"79.439"}]},"mark":{"type":"text","font":"Liberation Sans","fontSize":5,"color":"#000","baseline":"middle","align":"center"},"encoding":{"y":{"field":"p","type":"quantitative","title":null},"text":{"field":"t"}}}
]
},
{
"width":762,"height":36,
"encoding":{"x":{"field":"d","type":"temporal","title":null,
 "scale":{"type":"utc","domain":[{"year":2020,"month":6,"date":3,"hours":10,"utc":true},{"year":2021,"month":11,"date":11,"hours":8,"utc":true}]},
 "axis":{"values":[{"year":2020,"month":7,"date":1,"utc":true},{"year":2020,"month":8,"date":1,"utc":true},{"year":2020,"month":9,"date":1,"utc":true},{"year":2020,"month":10,"date":1,"utc":true},{"year":2020,"month":11,"date":1,"utc":true},{"year":2020,"month":12,"date":1,"utc":true},{"year":2021,"month":1,"date":1,"utc":true},{"year":2021,"month":2,"date":1,"utc":true},{"year":2021,"month":3,"date":1,"utc":true},{"year":2021,"month":4,"date":1,"utc":true},{"year":2021,"month":5,"date":1,"utc":true},{"year":2021,"month":6,"date":1,"utc":true},{"year":2021,"month":7,"date":1,"utc":true},{"year":2021,"month":8,"date":1,"utc":true},{"year":2021,"month":9,"date":1,"utc":true},{"year":2021,"month":10,"date":1,"utc":true}],
 "labels":false,"ticks":false,"domain":false,"grid":true,"gridColor":"#aaa","gridDash":[1,2]}}},
"layer":[
{"data":{"values":[{"v":80}]},"mark":{"type":"rule","color":"#777","strokeWidth":1},"encoding":{"x":{"value":0},"x2":{"value":762},"y":{"field":"v","type":"quantitative","title":null,"scale":{"domain":[10,100],"nice":false,"zero":false},"axis":{"orient":"right","values":[80,50,20],"labels":false,"tickSize":2,"grid":false,"title":null}}}},
{"data":{"values":[{"v":50}]},"mark":{"type":"rule","color":"#777","strokeWidth":1,"strokeDash":[1,2]},"encoding":{"x":{"value":0},"x2":{"value":762},"y":{"field":"v","type":"quantitative","title":null}}},
{"data":{"name":"stoch"},"mark":{"type":"line","color":"#e06060","strokeWidth":1,"interpolate":"monotone"},"encoding":{"y":{"field":"s","type":"quantitative","title":null}}},
{"data":{"name":"stoch"},"mark":{"type":"line","color":"#111","strokeWidth":1,"interpolate":"monotone"},"encoding":{"y":{"field":"k","type":"quantitative","title":null}}},
{"data":{"name":"stochlabels"},"mark":{"type":"text","font":"Liberation Sans","fontSize":4.5,"color":"#444","baseline":"middle","align":"left"},"encoding":{"y":{"field":"v","type":"quantitative","title":null},"text":{"field":"t"}}},
{"data":{"values":[{"d":"2020-06-05","v":92,"t":"Stoch(14,3,3)"}]},"mark":{"type":"text","font":"DejaVu Sans","fontSize":5.5,"fontWeight":"bold","color":"#000","baseline":"middle","align":"left"},"encoding":{"y":{"field":"v","type":"quantitative","title":null},"text":{"field":"t"}}}
]
}
]
}
